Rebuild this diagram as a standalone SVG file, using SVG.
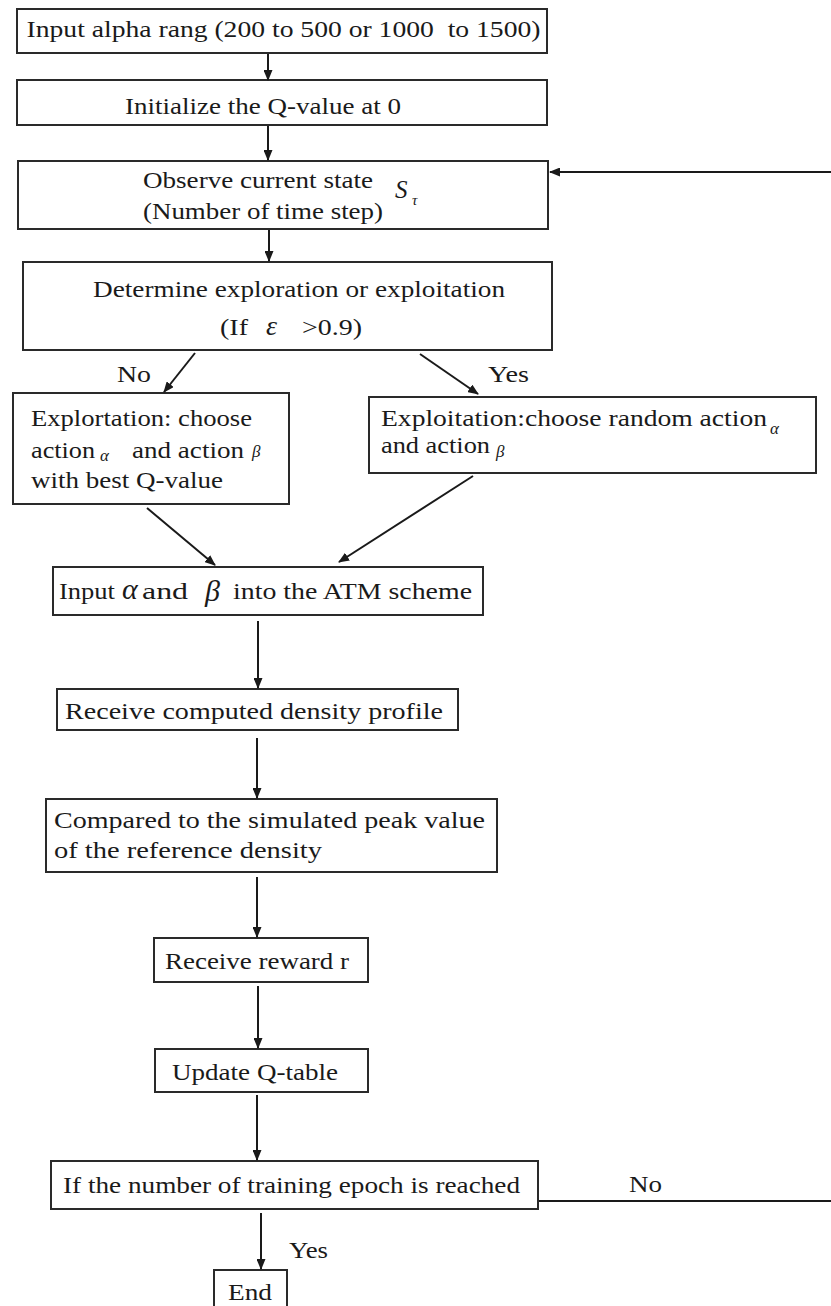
<svg xmlns="http://www.w3.org/2000/svg" width="831" height="1306" viewBox="0 0 831 1306">
<defs>
<marker id="ah" markerUnits="userSpaceOnUse" markerWidth="11" markerHeight="9" refX="10" refY="4.5" orient="auto">
<path d="M0,0 L11,4.5 L0,9 z" fill="#1a1a1a"/>
</marker>
<style>
.box{fill:#fff;stroke:#2a2a2a;stroke-width:2}
.t{font-family:'Liberation Serif','Times New Roman',Times,serif;font-size:24px;fill:#1a1a1a}
.m{font-family:'Liberation Serif','Times New Roman',Times,serif;font-style:italic;fill:#1a1a1a}
.c{fill:none;stroke:#1a1a1a;stroke-width:2;marker-end:url(#ah)}
</style>
</defs>
<rect width="831" height="1306" fill="#fff"/>

<g id="n1">
<rect class="box" x="17" y="9" width="530" height="44"/>
<text class="t" x="26.5" y="37" textLength="514" lengthAdjust="spacingAndGlyphs" xml:space="preserve">Input alpha rang (200 to 500 or 1000  to 1500)</text>
</g>
<g id="n2">
<rect class="box" x="17" y="80" width="530" height="45"/>
<text class="t" x="125" y="114" textLength="276" lengthAdjust="spacingAndGlyphs">Initialize the Q-value at 0</text>
</g>
<g id="n3">
<rect class="box" x="18" y="161" width="530" height="68"/>
<text class="t" x="143" y="188" textLength="230" lengthAdjust="spacingAndGlyphs">Observe current state</text>
<text class="m" x="395" y="198" font-size="25">S</text>
<text class="m" x="412" y="205" font-size="15">τ</text>
<text class="t" x="143" y="219" textLength="240" lengthAdjust="spacingAndGlyphs">(Number of time step)</text>
</g>
<g id="n4">
<rect class="box" x="23" y="262" width="529" height="88"/>
<text class="t" x="93" y="297" textLength="412" lengthAdjust="spacingAndGlyphs">Determine exploration or exploitation</text>
<text class="t" x="220" y="335" textLength="28" lengthAdjust="spacingAndGlyphs">(If</text>
<text class="m" x="266" y="335" font-size="28">ε</text>
<text class="t" x="302" y="335" textLength="60" lengthAdjust="spacingAndGlyphs">&gt;0.9)</text>
</g>
<g id="n5">
<rect class="box" x="13" y="393" width="276" height="111"/>
<text class="t" x="31" y="426" textLength="221" lengthAdjust="spacingAndGlyphs">Explortation: choose</text>
<text class="t" x="31" y="458" textLength="64" lengthAdjust="spacingAndGlyphs">action</text>
<text class="m" x="100" y="461" font-size="17">α</text>
<text class="t" x="132" y="458" textLength="112" lengthAdjust="spacingAndGlyphs">and action</text>
<text class="m" x="252" y="457" font-size="17">β</text>
<text class="t" x="31" y="488" textLength="192" lengthAdjust="spacingAndGlyphs">with best Q-value</text>
</g>
<g id="n6">
<rect class="box" x="369" y="397" width="447" height="76"/>
<text class="t" x="381" y="426" textLength="386" lengthAdjust="spacingAndGlyphs">Exploitation:choose random action</text>
<text class="m" x="770" y="434" font-size="17">α</text>
<text class="t" x="381" y="453" textLength="109" lengthAdjust="spacingAndGlyphs">and action</text>
<text class="m" x="496" y="457" font-size="17">β</text>
</g>
<g id="n7">
<rect class="box" x="53" y="567" width="430" height="48"/>
<text class="t" x="59" y="599" textLength="56" lengthAdjust="spacingAndGlyphs">Input</text>
<text class="m" x="122" y="599" font-size="30">α</text>
<text class="t" x="142" y="599" textLength="46" lengthAdjust="spacingAndGlyphs">and</text>
<text class="m" x="205" y="601" font-size="30">β</text>
<text class="t" x="233" y="599" textLength="239" lengthAdjust="spacingAndGlyphs">into the ATM scheme</text>
</g>
<g id="n8">
<rect class="box" x="57" y="689" width="401" height="41"/>
<text class="t" x="65" y="719" textLength="378" lengthAdjust="spacingAndGlyphs">Receive computed density profile</text>
</g>
<g id="n9">
<rect class="box" x="46" y="799" width="451" height="73"/>
<text class="t" x="54" y="828" textLength="431" lengthAdjust="spacingAndGlyphs">Compared to the simulated peak value</text>
<text class="t" x="54" y="858" textLength="268" lengthAdjust="spacingAndGlyphs">of the reference density</text>
</g>
<g id="n10">
<rect class="box" x="154" y="938" width="214" height="44"/>
<text class="t" x="165" y="969" textLength="184" lengthAdjust="spacingAndGlyphs">Receive reward r</text>
</g>
<g id="n11">
<rect class="box" x="155" y="1049" width="213" height="43"/>
<text class="t" x="172" y="1080" textLength="166" lengthAdjust="spacingAndGlyphs">Update Q-table</text>
</g>
<g id="n12">
<rect class="box" x="51" y="1161" width="487" height="48"/>
<text class="t" x="63" y="1193" textLength="457" lengthAdjust="spacingAndGlyphs">If the number of training epoch is reached</text>
</g>
<g id="n13">
<rect class="box" x="214" y="1270" width="73" height="40"/>
<text class="t" x="228" y="1300" textLength="44" lengthAdjust="spacingAndGlyphs">End</text>
</g>

<g id="connectors">
<line class="c" x1="268" y1="54" x2="268" y2="80"/>
<line class="c" x1="268" y1="126" x2="268" y2="160"/>
<line class="c" x1="269" y1="230" x2="269" y2="261"/>
<line class="c" x1="195" y1="353" x2="164" y2="392"/>
<line class="c" x1="420" y1="354" x2="478" y2="394"/>
<line class="c" x1="147" y1="508" x2="215" y2="565"/>
<line class="c" x1="473" y1="476" x2="339" y2="562"/>
<line class="c" x1="258" y1="621" x2="258" y2="688"/>
<line class="c" x1="257" y1="738" x2="257" y2="798"/>
<line class="c" x1="257" y1="877" x2="257" y2="937"/>
<line class="c" x1="258" y1="986" x2="258" y2="1048"/>
<line class="c" x1="257" y1="1095" x2="257" y2="1160"/>
<line class="c" x1="261" y1="1213" x2="261" y2="1269"/>
<path class="c" d="M539,1201 H833 V172 H550"/>
<text class="t" x="117" y="382" textLength="34" lengthAdjust="spacingAndGlyphs">No</text>
<text class="t" x="488" y="382" textLength="41" lengthAdjust="spacingAndGlyphs">Yes</text>
<text class="t" x="629" y="1192" textLength="33" lengthAdjust="spacingAndGlyphs">No</text>
<text class="t" x="289" y="1258" textLength="39" lengthAdjust="spacingAndGlyphs">Yes</text>
</g>
</svg>
